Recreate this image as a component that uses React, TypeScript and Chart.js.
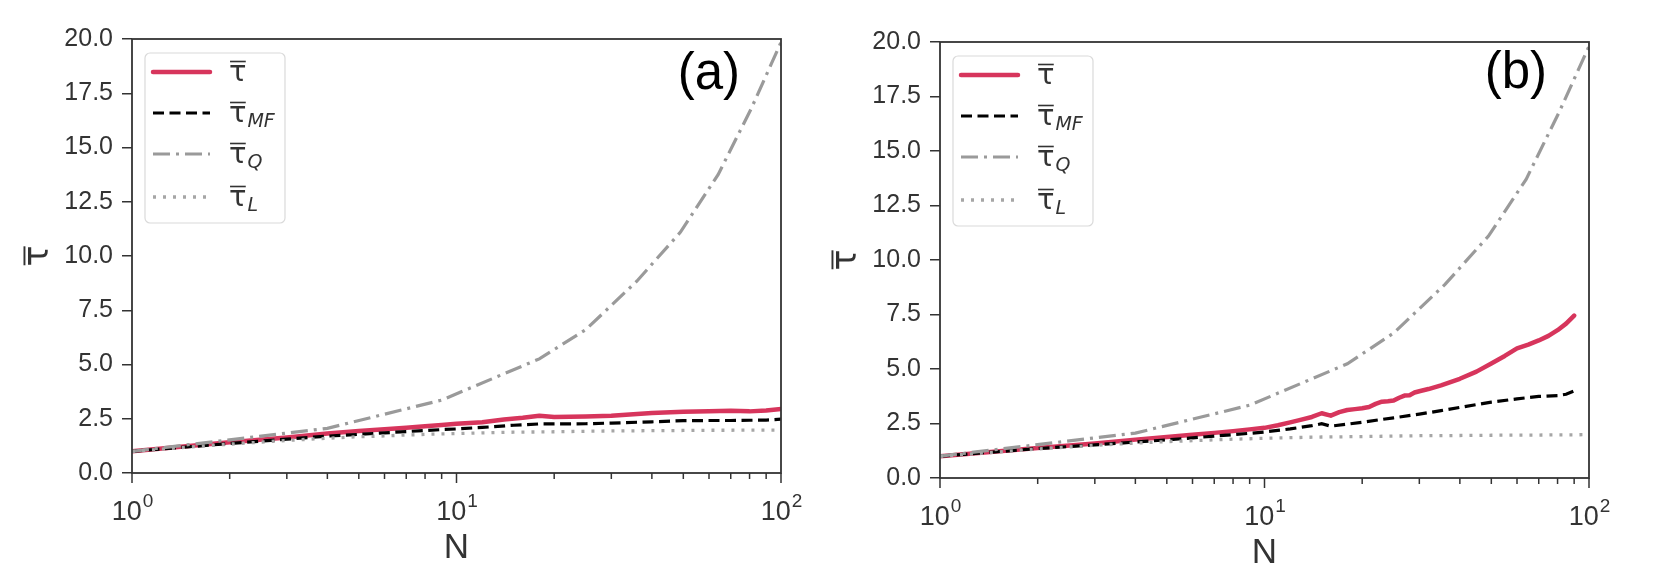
import React, { useEffect, useRef } from "react";
import { Chart, registerables } from "chart.js";

Chart.register(...registerables);

// ---------- data ----------
const X_TICKS = [1, 2, 3, 4, 5, 6, 7, 8, 9, 10, 20, 30, 40, 50, 60, 70, 80, 90, 100];
const X_MAJOR = [1, 10, 100];
const X_MAJOR_EXP = ["0", "1", "2"];
const X_TITLE = "N";
const Y_MIN = 0;
const Y_MAX = 20;
const Y_STEP = 2.5;
const SUBSCRIPTS = ["", "MF", "Q", "L"];

// panel (a)
const N_A_TAU = [1, 2, 3, 4, 5, 6, 7, 8, 9, 10, 12, 14, 16, 18, 20, 25, 30, 40, 50, 60, 70, 80, 90, 100];
const TAU_A = [1.0, 1.42, 1.64, 1.82, 1.94, 2.02, 2.09, 2.15, 2.21, 2.27, 2.34, 2.47, 2.55, 2.64, 2.58, 2.6, 2.64, 2.76, 2.82, 2.84, 2.87, 2.84, 2.88, 2.95];
const N_A_MF = [1, 2, 3, 4, 5, 6, 7, 8, 9, 10, 12, 15, 18, 20, 25, 30, 40, 50, 60, 70, 80, 90, 100];
const MF_A = [1.0, 1.36, 1.56, 1.7, 1.78, 1.85, 1.91, 1.96, 2.0, 2.03, 2.1, 2.2, 2.26, 2.26, 2.27, 2.3, 2.36, 2.41, 2.42, 2.42, 2.43, 2.44, 2.48];
const N_A_Q = [1, 4, 9, 18, 25, 36, 49, 64, 81, 100];
const Q_A = [1.0, 2.06, 3.36, 5.26, 6.6, 8.85, 11.1, 13.75, 16.8, 19.85];
const N_A_L = [1, 2, 3, 4, 5, 6, 7, 8, 9, 10, 12, 15, 20, 30, 40, 50, 60, 70, 80, 90, 100];
const L_A = [1.0, 1.33, 1.5, 1.6, 1.67, 1.71, 1.75, 1.78, 1.8, 1.82, 1.85, 1.88, 1.9, 1.94, 1.95, 1.96, 1.97, 1.97, 1.98, 1.98, 1.98];

// panel (b)
const N_B_TAU = [1, 2, 3, 4, 5, 6, 7, 8, 9, 10, 11, 12, 13, 14, 15, 16, 17, 18, 19, 20, 21, 22, 23, 24, 25, 26, 27, 28, 29, 30, 32, 35, 40, 45, 50, 55, 60, 65, 70, 75, 80, 85, 90];
const TAU_B = [1.0, 1.38, 1.58, 1.76, 1.88, 1.98, 2.07, 2.15, 2.23, 2.3, 2.42, 2.55, 2.68, 2.8, 2.97, 2.86, 3.02, 3.12, 3.16, 3.2, 3.26, 3.4, 3.5, 3.52, 3.55, 3.68, 3.78, 3.8, 3.92, 3.98, 4.08, 4.25, 4.55, 4.88, 5.25, 5.6, 5.95, 6.12, 6.31, 6.52, 6.78, 7.08, 7.45];
const N_B_MF = [1, 2, 3, 4, 5, 6, 7, 8, 9, 10, 12, 14, 15, 16, 18, 20, 25, 30, 35, 40, 50, 60, 70, 80, 85, 90];
const MF_B = [1.0, 1.35, 1.52, 1.65, 1.75, 1.84, 1.92, 1.99, 2.05, 2.11, 2.25, 2.4, 2.49, 2.38, 2.47, 2.56, 2.76, 2.93, 3.09, 3.24, 3.48, 3.63, 3.74, 3.78, 3.84, 3.99];
const N_B_Q = [1, 4, 9, 18, 25, 36, 49, 64, 81, 100];
const Q_B = [1.0, 2.06, 3.34, 5.24, 6.65, 8.88, 11.1, 13.7, 16.8, 19.8];
const N_B_L = [1, 2, 3, 4, 5, 6, 7, 8, 9, 10, 12, 15, 20, 30, 40, 50, 60, 70, 80, 90, 100];
const L_B = [1.0, 1.33, 1.5, 1.6, 1.67, 1.71, 1.75, 1.78, 1.8, 1.82, 1.85, 1.88, 1.9, 1.94, 1.95, 1.96, 1.97, 1.97, 1.98, 1.98, 1.99];

// ---------- styles ----------
const AXIS_COLOR = "#333333";
const RED = "#d7355c";
const SANS = '"Liberation Sans", Arial, sans-serif';
const MATH = '"DejaVu Sans", sans-serif';

const zip = (xs: number[], ys: number[]) => xs.map((x, i) => ({ x, y: ys[i] }));

type PanelCfg = {
  canvasLeft: number;
  canvasWidth: number;
  padTop: number;
  padRight: number;
  yWidth: number;
  xHeight: number;
  label: string;
  labelDx: number;
  labelDy: number;
  tau: [number[], number[]];
  mf: [number[], number[]];
  q: [number[], number[]];
  l: [number[], number[]];
};

const PANELS: PanelCfg[] = [
  {
    canvasLeft: 0, canvasWidth: 810, padTop: 39, padRight: 29, yWidth: 132, xHeight: 101,
    label: "(a)", labelDx: 41, labelDy: 50,
    tau: [N_A_TAU, TAU_A], mf: [N_A_MF, MF_A], q: [N_A_Q, Q_A], l: [N_A_L, L_A],
  },
  {
    canvasLeft: 810, canvasWidth: 854, padTop: 42, padRight: 75, yWidth: 130, xHeight: 96,
    label: "(b)", labelDx: 42, labelDy: 46,
    tau: [N_B_TAU, TAU_B], mf: [N_B_MF, MF_B], q: [N_B_Q, Q_B], l: [N_B_L, L_B],
  },
];

function drawTauBar(ctx: CanvasRenderingContext2D, x: number, baseline: number, size: number, sub: string, subSize: number) {
  ctx.font = `${size}px ${MATH}`;
  ctx.textAlign = "left";
  ctx.textBaseline = "alphabetic";
  const w = ctx.measureText("τ").width;
  ctx.fillText("τ", x, baseline);
  ctx.fillRect(x + w * 0.06, baseline - size * 0.7, w * 0.9, Math.max(1.3, size * 0.055));
  if (sub) {
    ctx.font = `italic ${subSize}px ${MATH}`;
    ctx.fillText(sub, x + w + 1, baseline + size * 0.18);
  }
}

function makeDecor(cfg: PanelCfg) {
  return {
    id: "decor" + cfg.label,
    afterDatasetsDraw(chart: any) {
      const ctx: CanvasRenderingContext2D = chart.ctx;
      const a = chart.chartArea;
      const xs = chart.scales.x;
      ctx.save();
      // frame
      ctx.strokeStyle = AXIS_COLOR;
      ctx.lineWidth = 1.8;
      ctx.setLineDash([]);
      ctx.strokeRect(a.left, a.top, a.right - a.left, a.bottom - a.top);
      // x ticks
      ctx.lineWidth = 1.5;
      for (const v of X_TICKS) {
        const px = xs.getPixelForValue(v);
        const major = X_MAJOR.includes(v);
        ctx.beginPath();
        ctx.moveTo(px, a.bottom);
        ctx.lineTo(px, a.bottom + (major ? 10 : 6));
        ctx.stroke();
      }
      // x tick labels 10^k
      ctx.fillStyle = AXIS_COLOR;
      ctx.textBaseline = "alphabetic";
      ctx.textAlign = "left";
      X_MAJOR.forEach((v, i) => {
        const px = xs.getPixelForValue(v);
        ctx.font = `27px ${SANS}`;
        const wb = ctx.measureText("10").width;
        ctx.font = `19px ${SANS}`;
        const we = ctx.measureText(X_MAJOR_EXP[i]).width;
        const start = px - (wb + we) / 2;
        ctx.font = `27px ${SANS}`;
        ctx.fillText("10", start, a.bottom + 47);
        ctx.font = `19px ${SANS}`;
        ctx.fillText(X_MAJOR_EXP[i], start + wb + 1, a.bottom + 34);
      });
      // x title
      ctx.font = `35px ${SANS}`;
      ctx.textAlign = "center";
      ctx.fillText(X_TITLE, (a.left + a.right) / 2, a.bottom + 85);
      // y title (rotated tau bar)
      ctx.save();
      ctx.translate(a.left - 84, (a.top + a.bottom) / 2);
      ctx.rotate(-Math.PI / 2);
      ctx.font = `35px ${MATH}`;
      const wt = ctx.measureText("τ").width;
      ctx.fillStyle = AXIS_COLOR;
      drawTauBar(ctx, -wt / 2, 0, 35, "", 0);
      ctx.restore();
      // panel label
      ctx.fillStyle = "#000";
      ctx.font = `51px ${SANS}`;
      ctx.textAlign = "right";
      ctx.textBaseline = "alphabetic";
      ctx.fillText(cfg.label, a.right - cfg.labelDx, a.top + cfg.labelDy);
      // legend
      const bx = a.left + 13, by = a.top + 14, bw = 140, bh = 170;
      ctx.beginPath();
      ctx.roundRect(bx, by, bw, bh, 5);
      ctx.fillStyle = "rgba(255,255,255,0.85)";
      ctx.fill();
      ctx.strokeStyle = "#dadada";
      ctx.lineWidth = 1.2;
      ctx.stroke();
      const rows = [33, 74, 115, 158];
      chart.data.datasets.forEach((ds: any, i: number) => {
        const y = a.top + rows[i];
        ctx.beginPath();
        ctx.strokeStyle = ds.borderColor;
        ctx.lineWidth = ds.borderWidth;
        ctx.setLineDash(ds.borderDash || []);
        ctx.lineCap = ds.borderCapStyle || "butt";
        ctx.moveTo(a.left + 21, y);
        ctx.lineTo(a.left + 78, y);
        ctx.stroke();
        ctx.setLineDash([]);
        ctx.lineCap = "butt";
        ctx.fillStyle = AXIS_COLOR;
        drawTauBar(ctx, a.left + 97, y + 9, 29, SUBSCRIPTS[i], 19);
      });
      ctx.restore();
    },
  };
}

function Panel({ cfg }: { cfg: PanelCfg }) {
  const ref = useRef<HTMLCanvasElement>(null);
  useEffect(() => {
    const datasets = [
      { label: "tau", data: zip(cfg.tau[0], cfg.tau[1]), borderColor: RED, borderWidth: 4.5, borderCapStyle: "round", borderJoinStyle: "round", order: 4 },
      { label: "tauMF", data: zip(cfg.mf[0], cfg.mf[1]), borderColor: "#000000", borderWidth: 3.2, borderDash: [11, 5.5], order: 3 },
      { label: "tauQ", data: zip(cfg.q[0], cfg.q[1]), borderColor: "#9a9a9a", borderWidth: 3.2, borderDash: [17, 6, 3, 6], order: 2 },
      { label: "tauL", data: zip(cfg.l[0], cfg.l[1]), borderColor: "#a6a6a6", borderWidth: 3.3, borderDash: [3, 7], order: 1 },
    ];
    const chart = new Chart(ref.current!, {
      type: "line",
      data: { datasets: datasets as any },
      options: {
        animation: false,
        responsive: false,
        devicePixelRatio: 1,
        layout: { padding: { left: 0, right: cfg.padRight, top: cfg.padTop, bottom: 0 } },
        elements: { point: { radius: 0 }, line: { tension: 0 } },
        plugins: { legend: { display: false }, tooltip: { enabled: false }, title: { display: false } },
        scales: {
          x: {
            type: "logarithmic",
            min: 1,
            max: 100,
            grid: { display: false },
            border: { display: false },
            ticks: { display: false },
            afterFit: (s: any) => { s.height = cfg.xHeight; },
          },
          y: {
            type: "linear",
            min: Y_MIN,
            max: Y_MAX,
            grid: { display: true, drawOnChartArea: false, drawTicks: true, tickLength: 10, color: AXIS_COLOR, lineWidth: 1.5 },
            border: { display: false },
            ticks: {
              stepSize: Y_STEP,
              padding: 9,
              color: AXIS_COLOR,
              font: { family: "Liberation Sans", size: 25 },
              callback: (v: any) => Number(v).toFixed(1),
            },
            afterFit: (s: any) => { s.width = cfg.yWidth; },
          },
        },
      } as any,
      plugins: [makeDecor(cfg)],
    });
    return () => chart.destroy();
  }, []);
  return (
    <canvas
      ref={ref}
      width={cfg.canvasWidth}
      height={574}
      style={{ position: "absolute", left: cfg.canvasLeft, top: 0, width: cfg.canvasWidth, height: 574 }}
    />
  );
}

export default function App() {
  return (
    <div style={{ position: "absolute", left: 0, top: 0, width: 1664, height: 574, background: "#ffffff", overflow: "hidden" }}>
      {PANELS.map((p) => (
        <Panel key={p.label} cfg={p} />
      ))}
    </div>
  );
}
